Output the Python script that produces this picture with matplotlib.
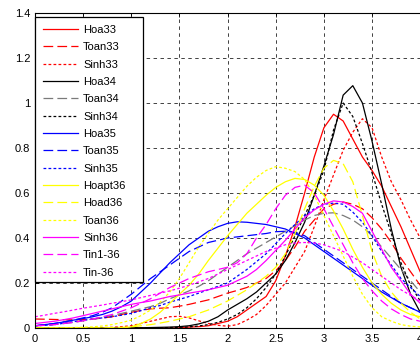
import matplotlib
matplotlib.use('Agg')
import matplotlib.pyplot as plt
from matplotlib.patches import Rectangle

plt.rcParams['font.family'] = ['Liberation Sans', 'DejaVu Sans']
plt.rcParams['lines.scale_dashes'] = False

# x grid 0.0 .. 4.0 in steps of 0.1
x = [i / 10 for i in range(41)]

hoa33 = [0, 0, 0, 0, 0, 0, 0, 0, 0, 0, 0, 0, 0, 0, 0, 0,
         0.004, 0.006, 0.01, 0.02, 0.03, 0.05, 0.08, 0.11, 0.14, 0.21, 0.32, 0.45, 0.60, 0.76,
         0.89, 0.95, 0.92, 0.84, 0.76, 0.70, 0.63, 0.54, 0.45, 0.35, 0.25]
toan33 = [0.04, 0.039, 0.038, 0.037, 0.036, 0.037, 0.04, 0.044, 0.05, 0.06, 0.07,
          0.078, 0.085, 0.088, 0.09, 0.097, 0.105, 0.115, 0.125, 0.14, 0.155,
          0.167, 0.18, 0.20, 0.22, 0.255, 0.30, 0.36, 0.43, 0.48, 0.53,
          0.55, 0.56, 0.55, 0.53, 0.49, 0.44, 0.38, 0.31, 0.25, 0.19]
sinh33 = [0, 0, 0, 0, 0, 0, 0.001, 0.002, 0.003, 0.006, 0.01,
          0.02, 0.03, 0.04, 0.05, 0.052, 0.045, 0.032, 0.02, 0.012, 0.008,
          0.015, 0.035, 0.06, 0.10, 0.15, 0.20, 0.27, 0.34, 0.45, 0.57,
          0.68, 0.79, 0.87, 0.93, 0.89, 0.76, 0.65, 0.57, 0.48, 0.40]
hoa34 = [0, 0, 0, 0, 0, 0, 0, 0, 0, 0,
         0.001, 0.001, 0.002, 0.003, 0.004, 0.006, 0.01, 0.018, 0.03, 0.05, 0.08,
         0.105, 0.13, 0.16, 0.20, 0.24, 0.30, 0.38, 0.47, 0.59, 0.72,
         0.86, 1.035, 1.077, 1.00, 0.83, 0.64, 0.44, 0.27, 0.15, 0.07]
toan34 = [0.01, 0.012, 0.015, 0.02, 0.025, 0.032, 0.04, 0.047, 0.055, 0.065, 0.075,
          0.085, 0.095, 0.11, 0.13, 0.147, 0.165, 0.185, 0.21, 0.24, 0.27,
          0.30, 0.33, 0.355, 0.38, 0.405, 0.43, 0.455, 0.48, 0.50, 0.51,
          0.512, 0.50, 0.48, 0.45, 0.41, 0.36, 0.31, 0.26, 0.21, 0.16]
sinh34 = [0, 0, 0, 0, 0, 0, 0, 0, 0, 0, 0, 0, 0, 0,
          0.002, 0.003, 0.005, 0.009, 0.015, 0.025, 0.04,
          0.06, 0.09, 0.13, 0.18, 0.24, 0.32, 0.41, 0.50, 0.59, 0.70,
          0.88, 1.00, 0.94, 0.82, 0.69, 0.55, 0.42, 0.29, 0.19, 0.12]
hoa35 = [0.01, 0.015, 0.02, 0.027, 0.035, 0.042, 0.05, 0.06, 0.075, 0.095, 0.12,
         0.16, 0.20, 0.245, 0.29, 0.33, 0.37, 0.40, 0.43, 0.45, 0.465,
         0.472, 0.47, 0.465, 0.46, 0.45, 0.44, 0.42, 0.40, 0.37, 0.34,
         0.31, 0.28, 0.25, 0.22, 0.19, 0.16, 0.135, 0.11, 0.09, 0.07]
toan35 = [0.01, 0.015, 0.02, 0.027, 0.035, 0.045, 0.055, 0.07, 0.09, 0.12, 0.15,
          0.185, 0.22, 0.25, 0.28, 0.31, 0.34, 0.36, 0.38, 0.39, 0.40,
          0.405, 0.41, 0.415, 0.42, 0.428, 0.43, 0.425, 0.41, 0.38, 0.35,
          0.32, 0.29, 0.26, 0.23, 0.20, 0.17, 0.14, 0.11, 0.09, 0.07]
sinh35 = [0.01, 0.012, 0.015, 0.021, 0.028, 0.034, 0.04, 0.045, 0.05, 0.057, 0.065,
          0.077, 0.09, 0.10, 0.115, 0.127, 0.14, 0.155, 0.17, 0.185, 0.20,
          0.23, 0.26, 0.295, 0.33, 0.375, 0.42, 0.46, 0.50, 0.53, 0.55,
          0.555, 0.55, 0.515, 0.47, 0.41, 0.34, 0.28, 0.22, 0.18, 0.14]
hoapt36 = [0, 0, 0, 0, 0, 0, 0, 0, 0, 0,
           0.005, 0.02, 0.04, 0.07, 0.11, 0.15, 0.19, 0.24, 0.30, 0.355, 0.41,
           0.46, 0.51, 0.55, 0.59, 0.625, 0.65, 0.665, 0.66, 0.635, 0.59,
           0.52, 0.44, 0.35, 0.27, 0.20, 0.15, 0.11, 0.08, 0.06, 0.05]
hoad36 = [0, 0, 0, 0, 0, 0, 0, 0,
          0.002, 0.003, 0.005, 0.01, 0.015, 0.022, 0.03, 0.04, 0.05, 0.065, 0.08, 0.10, 0.12,
          0.145, 0.17, 0.20, 0.23, 0.27, 0.33, 0.42, 0.53, 0.63, 0.71,
          0.745, 0.73, 0.65, 0.50, 0.34, 0.23, 0.16, 0.11, 0.07, 0.04]
toan36 = [0, 0, 0, 0.001, 0.002, 0.003, 0.005, 0.009, 0.015, 0.024, 0.035,
          0.055, 0.08, 0.115, 0.16, 0.22, 0.29, 0.36, 0.42, 0.48, 0.53,
          0.58, 0.63, 0.67, 0.70, 0.717, 0.71, 0.695, 0.66, 0.59, 0.50,
          0.41, 0.32, 0.23, 0.15, 0.09, 0.05, 0.03, 0.015, 0.008, 0.005]
sinh36 = [0.02, 0.025, 0.03, 0.037, 0.045, 0.055, 0.065, 0.075, 0.085, 0.095, 0.105,
          0.113, 0.12, 0.13, 0.14, 0.147, 0.155, 0.162, 0.17, 0.18, 0.19,
          0.21, 0.23, 0.26, 0.30, 0.345, 0.39, 0.44, 0.49, 0.525, 0.55,
          0.565, 0.56, 0.54, 0.51, 0.43, 0.35, 0.27, 0.21, 0.15, 0.11]
tin1_36 = [0.01, 0.012, 0.015, 0.02, 0.025, 0.032, 0.04, 0.05, 0.06, 0.075, 0.09,
           0.11, 0.13, 0.155, 0.18, 0.20, 0.22, 0.235, 0.25, 0.26, 0.27,
           0.29, 0.33, 0.40, 0.46, 0.53, 0.59, 0.625, 0.635, 0.60, 0.53,
           0.45, 0.37, 0.29, 0.22, 0.165, 0.12, 0.085, 0.06, 0.04, 0.03]
tin_36 = [0.05, 0.057, 0.065, 0.072, 0.08, 0.088, 0.095, 0.102, 0.11, 0.117, 0.125,
          0.135, 0.145, 0.155, 0.165, 0.177, 0.19, 0.205, 0.22, 0.24, 0.26,
          0.28, 0.30, 0.32, 0.34, 0.355, 0.37, 0.378, 0.38, 0.378, 0.37,
          0.355, 0.34, 0.315, 0.29, 0.26, 0.23, 0.20, 0.17, 0.145, 0.12]

labels = ['Hoa33', 'Toan33', 'Sinh33', 'Hoa34', 'Toan34', 'Sinh34',
          'Hoa35', 'Toan35', 'Sinh35', 'Hoapt36', 'Hoad36', 'Toan36',
          'Sinh36', 'Tin1-36', 'Tin-36']
values = [hoa33, toan33, sinh33, hoa34, toan34, sinh34, hoa35, toan35, sinh35,
          hoapt36, hoad36, toan36, sinh36, tin1_36, tin_36]

x_ticks = [0, 0.5, 1, 1.5, 2, 2.5, 3, 3.5, 4, 4.5, 5]
x_ticklabels = ['0', '0.5', '1', '1.5', '2', '2.5', '3', '3.5', '4', '4.5', '5']
y_ticks = [0, 0.2, 0.4, 0.6, 0.8, 1.0, 1.2, 1.4]
y_ticklabels = ['0', '0.2', '0.4', '0.6', '0.8', '1', '1.2', '1.4']

SOLID = '-'
DASH = (0, (7, 3))
DOT = (0, (2, 1.6))
colors = ['#ff0000', '#ff0000', '#ff0000',
          '#000000', '#7a7a7a', '#000000',
          '#0000ff', '#0000ff', '#0000ff',
          '#ffff00', '#ffff00', '#ffff00',
          '#ff00ff', '#ff00ff', '#ff00ff']
styles = [SOLID, DASH, DOT] * 5

W, H = 420, 350
fig = plt.figure(figsize=(W / 100, H / 100), dpi=100)
fig.patch.set_facecolor('white')
ax_left, ax_bottom_px, ax_top_px, ax_wpx = 35, 328, 13, 481.5
ax = fig.add_axes([ax_left / W, (H - ax_bottom_px) / H, ax_wpx / W,
                   (ax_bottom_px - ax_top_px) / H])

for lab, vals, c, ls in zip(labels, values, colors, styles):
    ax.plot(x, vals, color=c, linestyle=ls, linewidth=0.9, label=lab)

ax.set_xlim(0, 5)
ax.set_ylim(0, 1.4)
ax.set_xticks(x_ticks)
ax.set_xticklabels(x_ticklabels)
ax.set_yticks(y_ticks)
ax.set_yticklabels(y_ticklabels)
ax.tick_params(direction='in', top=True, right=False, length=3, width=0.6,
               labelsize=8)
ax.tick_params(axis='x', pad=4.5)
ax.tick_params(axis='y', pad=3.5)
ax.grid(True, color='#222222', linestyle=(0, (2.5, 2.5)), linewidth=0.6)
for s in ax.spines.values():
    s.set_linewidth(0.8)
    s.set_color('black')

# legend frame (pixel box 35..143 x 17..282 from top-left)
ah = ax_bottom_px - ax_top_px
fx0, fx1 = 0, (143 - ax_left) / ax_wpx
fy_top = (ax_bottom_px - 17) / ah
fy_bot = (ax_bottom_px - 282) / ah
ax.add_patch(Rectangle((fx0, fy_bot), fx1 - fx0, fy_top - fy_bot,
                       transform=ax.transAxes, facecolor='white',
                       edgecolor='black', linewidth=0.9, zorder=4.5,
                       clip_on=False))

leg = ax.legend(loc='upper left', bbox_to_anchor=(0, fy_top), borderaxespad=0,
                fontsize=8, labelspacing=0.66, handlelength=3.15,
                handletextpad=0.45, borderpad=0.72, frameon=False)
leg.set_zorder(5)

fig.savefig('out.png', dpi=100, facecolor='white')
